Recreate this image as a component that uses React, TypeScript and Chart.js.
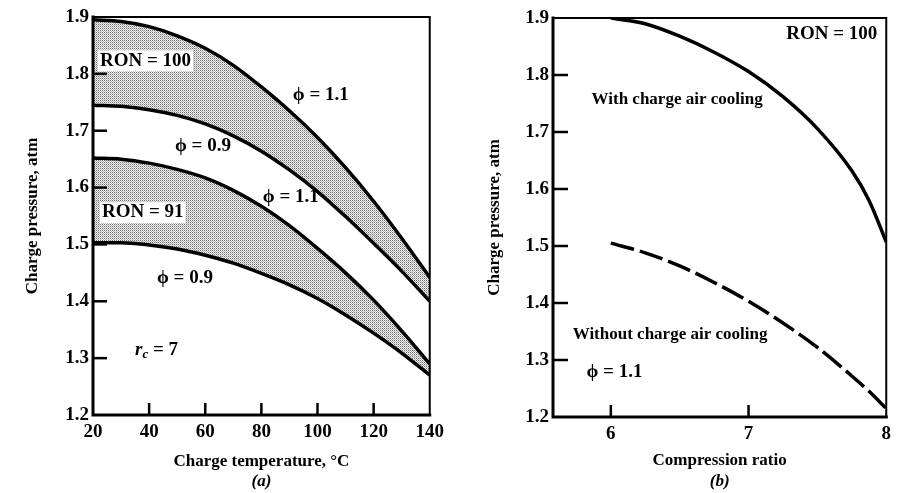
import React, { useEffect, useRef } from 'react';
import { Chart, registerables } from 'chart.js';

Chart.register(...registerables);

// ---------- data: panel (a) ----------
const temperatureC = [20, 30, 40, 50, 60, 70, 80, 90, 100, 110, 120, 130, 140];
const ron100Phi11 = [1.895, 1.892, 1.883, 1.867, 1.845, 1.815, 1.777, 1.735, 1.688, 1.635, 1.576, 1.511, 1.442];
const ron100Phi09 = [1.745, 1.743, 1.737, 1.727, 1.712, 1.691, 1.664, 1.631, 1.593, 1.549, 1.502, 1.453, 1.4];
const ron91Phi11 = [1.652, 1.65, 1.643, 1.632, 1.617, 1.595, 1.567, 1.533, 1.493, 1.45, 1.402, 1.348, 1.29];
const ron91Phi09 = [1.503, 1.503, 1.499, 1.492, 1.481, 1.467, 1.449, 1.429, 1.405, 1.376, 1.344, 1.309, 1.27];

// ---------- data: panel (b) ----------
const compressionRatio = [6, 6.25, 6.5, 6.75, 7, 7.25, 7.5, 7.75, 7.875, 8];
const withCooling = [1.9, 1.89, 1.868, 1.84, 1.806, 1.762, 1.706, 1.632, 1.58, 1.507];
const withoutCooling = [1.505, 1.488, 1.465, 1.436, 1.403, 1.365, 1.322, 1.272, 1.245, 1.215];

// ---------- ticks ----------
const pressureTicks = [1.2, 1.3, 1.4, 1.5, 1.6, 1.7, 1.8, 1.9];
const temperatureTicks = [20, 40, 60, 80, 100, 120, 140];
const ratioTicks = [6, 7, 8];

const SERIF = '"Liberation Serif", "Times New Roman", "DejaVu Serif", serif';

type Ann = { text: string; x: number; y: number; size: number; align?: CanvasTextAlign; box?: boolean; rc?: boolean };

function makeStipple(): CanvasPattern | string {
  const c = document.createElement('canvas');
  c.width = 2;
  c.height = 2;
  const g = c.getContext('2d');
  if (!g) return '#c4c4c4';
  g.fillStyle = '#f4f4f4';
  g.fillRect(0, 0, 2, 2);
  g.fillStyle = '#6c6c6c';
  g.fillRect(0, 0, 1, 1);
  g.fillStyle = '#b4b4b4';
  g.fillRect(1, 1, 1, 1);
  return g.createPattern(c, 'repeat') || '#c4c4c4';
}

function makeDecor(o: {
  anns: Ann[];
  yTitle: string;
  yTitleX: number;
  xTitle: string;
  xTitleY: number;
  sub: string;
  subY: number;
  yTickLen: number;
  xTickLen: number;
}) {
  return {
    id: 'decor',
    afterDatasetsDraw(chart: any) {
      const ctx: CanvasRenderingContext2D = chart.ctx;
      const { left, right, top, bottom } = chart.chartArea;
      const xs = chart.scales.x;
      const ys = chart.scales.y;
      ctx.save();
      ctx.strokeStyle = '#000';
      ctx.lineCap = 'square';
      ctx.lineWidth = 2;
      ctx.beginPath();
      ctx.moveTo(left, top);
      ctx.lineTo(right, top);
      ctx.lineTo(right, bottom);
      ctx.stroke();
      ctx.lineWidth = 3;
      ctx.beginPath();
      ctx.moveTo(left, top);
      ctx.lineTo(left, bottom);
      ctx.lineTo(right, bottom);
      ctx.stroke();
      ctx.lineWidth = 2.5;
      ctx.lineCap = 'butt';
      ys.ticks.forEach((t: any) => {
        if (t.value <= ys.min + 1e-9 || t.value >= ys.max - 1e-9) return;
        const py = ys.getPixelForValue(t.value);
        ctx.beginPath();
        ctx.moveTo(left, py);
        ctx.lineTo(left + o.yTickLen, py);
        ctx.stroke();
      });
      xs.ticks.forEach((t: any) => {
        if (t.value <= xs.min + 1e-9 || t.value >= xs.max - 1e-9) return;
        const px = xs.getPixelForValue(t.value);
        ctx.beginPath();
        ctx.moveTo(px, bottom);
        ctx.lineTo(px, bottom - o.xTickLen);
        ctx.stroke();
      });
      ctx.fillStyle = '#000';
      ctx.textBaseline = 'middle';
      o.anns.forEach((a) => {
        const px = xs.getPixelForValue(a.x);
        const py = ys.getPixelForValue(a.y);
        if (a.rc) {
          ctx.textAlign = 'left';
          ctx.font = `italic bold ${a.size}px ${SERIF}`;
          ctx.fillText('r', px, py);
          let w = ctx.measureText('r').width;
          ctx.font = `italic bold ${Math.round(a.size * 0.68)}px ${SERIF}`;
          ctx.fillText('c', px + w, py + 5);
          w += ctx.measureText('c').width;
          ctx.font = `bold ${a.size}px ${SERIF}`;
          ctx.fillText(a.text, px + w, py);
          return;
        }
        ctx.font = `bold ${a.size}px ${SERIF}`;
        ctx.textAlign = a.align || 'left';
        if (a.box) {
          const w = ctx.measureText(a.text).width;
          const bx = a.align === 'right' ? px - w : px;
          ctx.fillStyle = '#fff';
          ctx.fillRect(bx - 2, py - a.size * 0.55, w + 4, a.size * 1.1);
          ctx.fillStyle = '#000';
        }
        ctx.fillText(a.text, px, py);
      });
      ctx.font = `bold 17px ${SERIF}`;
      ctx.textAlign = 'center';
      ctx.save();
      ctx.translate(o.yTitleX, (top + bottom) / 2);
      ctx.rotate(-Math.PI / 2);
      ctx.fillText(o.yTitle, 0, 0);
      ctx.restore();
      ctx.fillText(o.xTitle, (left + right) / 2, o.xTitleY);
      ctx.font = `italic bold 17px ${SERIF}`;
      ctx.fillText(o.sub, (left + right) / 2, o.subY);
      ctx.restore();
    },
  };
}

function tickFont() {
  return { family: SERIF, size: 19, weight: 'bold' as const };
}

function axisY(width: number) {
  return {
    type: 'linear',
    min: 1.2,
    max: 1.9,
    afterBuildTicks: (s: any) => {
      s.ticks = pressureTicks.map((v) => ({ value: v }));
    },
    afterFit: (s: any) => {
      s.width = width;
    },
    grid: { display: false, drawTicks: false },
    border: { display: false },
    ticks: {
      font: tickFont(),
      color: '#000',
      padding: 4,
      autoSkip: false,
      callback: (v: any) => Number(v).toFixed(1),
    },
  };
}

export default function App() {
  const leftRef = useRef<HTMLCanvasElement | null>(null);
  const rightRef = useRef<HTMLCanvasElement | null>(null);

  useEffect(() => {
    const stipple = makeStipple();
    const line = (xs: number[], ys: number[], fill: any, extra: any = {}) => ({
      data: ys.map((y, i) => ({ x: xs[i], y })),
      borderColor: '#000',
      borderWidth: 3.5,
      pointRadius: 0,
      cubicInterpolationMode: 'monotone',
      fill,
      backgroundColor: stipple,
      ...extra,
    });

    const leftAnns: Ann[] = [
      { text: 'RON = 100', x: 22.5, y: 1.823, size: 19, box: true },
      { text: '\u03D5 = 1.1', x: 91.2, y: 1.763, size: 19 },
      { text: '\u03D5 = 0.9', x: 49.2, y: 1.673, size: 19 },
      { text: '\u03D5 = 1.1', x: 80.5, y: 1.584, size: 19 },
      { text: 'RON = 91', x: 23.2, y: 1.556, size: 19, box: true },
      { text: '\u03D5 = 0.9', x: 42.8, y: 1.44, size: 19 },
      { text: ' = 7', x: 35, y: 1.315, size: 19, rc: true },
    ];

    const left = new Chart(leftRef.current as HTMLCanvasElement, {
      type: 'line',
      data: {
        datasets: [
          line(temperatureC, ron100Phi11, '+1'),
          line(temperatureC, ron100Phi09, false),
          line(temperatureC, ron91Phi11, '+1'),
          line(temperatureC, ron91Phi09, false),
        ],
      },
      options: {
        responsive: false,
        animation: false,
        layout: { padding: { top: 17, right: 20, left: 0, bottom: 0 } },
        plugins: {
          legend: { display: false },
          tooltip: { enabled: false },
          filler: { drawTime: 'beforeDatasetsDraw' },
        },
        scales: {
          x: {
            type: 'linear',
            min: 20,
            max: 140,
            afterBuildTicks: (s: any) => {
              s.ticks = temperatureTicks.map((v) => ({ value: v }));
            },
            afterFit: (s: any) => {
              s.height = 78;
            },
            grid: { display: false, drawTicks: false },
            border: { display: false },
            ticks: { font: tickFont(), color: '#000', padding: 6, maxRotation: 0, autoSkip: false },
          },
          y: axisY(93),
        },
      },
      plugins: [
        makeDecor({
          anns: leftAnns,
          yTitle: 'Charge pressure, atm',
          yTitleX: 33,
          xTitle: 'Charge temperature, \u00B0C',
          xTitleY: 462,
          sub: '(a)',
          subY: 482,
          yTickLen: 14,
          xTickLen: 12,
        }),
      ],
    } as any);

    const rightAnns: Ann[] = [
      { text: 'RON = 100', x: 7.935, y: 1.872, size: 19, align: 'right' },
      { text: 'With charge air cooling', x: 5.86, y: 1.756, size: 17 },
      { text: 'Without charge air cooling', x: 5.723, y: 1.345, size: 17 },
      { text: '\u03D5 = 1.1', x: 5.823, y: 1.278, size: 19 },
    ];

    const right = new Chart(rightRef.current as HTMLCanvasElement, {
      type: 'line',
      data: {
        datasets: [
          line(compressionRatio, withCooling, false),
          line(compressionRatio, withoutCooling, false, { borderDash: [24, 6] }),
        ],
      },
      options: {
        responsive: false,
        animation: false,
        layout: { padding: { top: 18, right: 6, left: 0, bottom: 0 } },
        plugins: { legend: { display: false }, tooltip: { enabled: false } },
        scales: {
          x: {
            type: 'linear',
            min: 5.58,
            max: 8,
            afterBuildTicks: (s: any) => {
              s.ticks = ratioTicks.map((v) => ({ value: v }));
            },
            afterFit: (s: any) => {
              s.height = 76;
            },
            grid: { display: false, drawTicks: false },
            border: { display: false },
            ticks: { font: tickFont(), color: '#000', padding: 6, maxRotation: 0, autoSkip: false },
          },
          y: axisY(103),
        },
      },
      plugins: [
        makeDecor({
          anns: rightAnns,
          yTitle: 'Charge pressure, atm',
          yTitleX: 45,
          xTitle: 'Compression ratio',
          xTitleY: 461,
          sub: '(b)',
          subY: 482,
          yTickLen: 15,
          xTickLen: 12,
        }),
      ],
    } as any);

    return () => {
      left.destroy();
      right.destroy();
    };
  }, []);

  return (
    <div style={{ position: 'absolute', left: 0, top: 0, width: 897, height: 493, background: '#fff' }}>
      <canvas ref={leftRef} width={450} height={493} style={{ position: 'absolute', left: 0, top: 0, display: 'block' }} />
      <canvas ref={rightRef} width={447} height={493} style={{ position: 'absolute', left: 450, top: 0, display: 'block' }} />
    </div>
  );
}
